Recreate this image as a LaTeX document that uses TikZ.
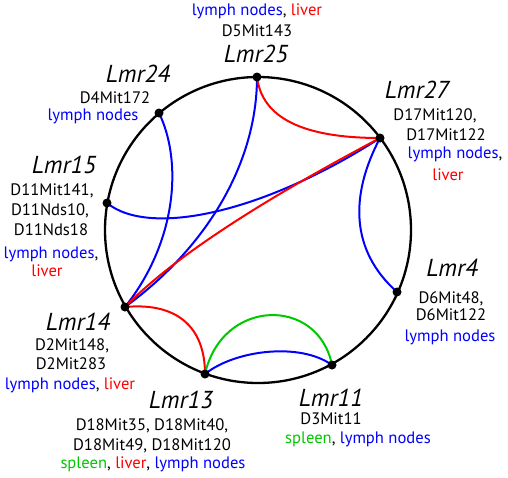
\documentclass[tikz,border=0pt]{standalone}
\usepackage{fontspec}
\setmainfont{PT Sans}
\definecolor{cblue}{RGB}{0,0,255}
\definecolor{cred}{RGB}{255,0,0}
\definecolor{cgreen}{RGB}{0,200,0}
\begin{document}
\begin{tikzpicture}[x=1pt,y=-1pt,
  ring/.style={line width=2.3pt,black},
  link/.style={line width=2pt},
  dot/.style={circle,fill=black,inner sep=0pt,minimum size=9pt},
  qtl/.style={anchor=base,inner sep=0pt,font=\fontsize{24.5}{24}\selectfont\itshape},
  lbl/.style={anchor=base,inner sep=0pt,font=\fontsize{16.6}{18}\selectfont}]
\useasboundingbox (0,0) rectangle (508,477);
\coordinate (c) at (258,230);
\coordinate (p25) at (257,77);
\coordinate (p24) at (159,113);
\coordinate (p27) at (380,138);
\coordinate (p15) at (107,203);
\coordinate (p4) at (397,292);
\coordinate (p11) at (332,365);
\coordinate (p13) at (205,374);
\coordinate (p14) at (125,307);
\draw[ring] (c) circle (153pt);
% connectors
\draw[link,cblue] (p24) .. controls (182,160) and (178,240) .. (p14);
\draw[link,cblue] (p25) .. controls (257,160) and (210,245) .. (p14);
\draw[link,cblue] (p15) .. controls (150,238) and (265,212) .. (p27);
\draw[link,cred] (p27) .. controls (320,170) and (190,240) .. (p14);
\draw[link,cblue] (p27) .. controls (350,195) and (350,250) .. (p4);
\draw[link,cred] (p25) .. controls (262,118) and (303,138) .. (p27);
\draw[link,cred] (p14) .. controls (178,302) and (205,328) .. (p13);
\draw[link,cgreen] (p13) .. controls (222,298) and (318,296) .. (p11);
\draw[link,cblue] (p13) .. controls (235,350) and (300,342) .. (p11);
% dots
\foreach \n in {25,24,27,15,4,11,13,14} \node[dot] (d\n) at (p\n) {};
% labels Lmr25
\node[lbl] (t25a) at (257,15) {\textcolor{cblue}{lymph nodes}, \textcolor{cred}{liver}};
\node[lbl] (t25b) at (257,36) {D5Mit143};
\node[qtl] (n25) at (256,62.5) {Lmr25};
% Lmr24
\node[qtl] (n24) at (138,82.5) {Lmr24};
\node[lbl] (t24b) at (115,103) {D4Mit172};
\node[lbl,cblue] (t24c) at (93,120) {lymph nodes};
% Lmr27
\node[qtl] (n27) at (417,98) {Lmr27};
\node[lbl] (t27a) at (435,120) {D17Mit120,};
\node[lbl] (t27b) at (446,140) {D17Mit122};
\node[lbl] (t27c) at (455,158) {\textcolor{cblue}{lymph nodes},};
\node[lbl,cred] (t27d) at (448,180) {liver};
% Lmr15
\node[qtl] (n15) at (64,173) {Lmr15};
\node[lbl] (t15a) at (52,195) {D11Mit141,};
\node[lbl] (t15b) at (50,215) {D11Nds10,};
\node[lbl] (t15c) at (51,235) {D11Nds18};
\node[lbl] (t15d) at (51,258) {\textcolor{cblue}{lymph nodes},};
\node[lbl,cred] (t15e) at (47,276) {liver};
% Lmr4
\node[qtl] (n4) at (452,276) {Lmr4};
\node[lbl] (t4a) at (451,303) {D6Mit48,};
\node[lbl] (t4b) at (451,320) {D6Mit122};
\node[lbl,cblue] (t4c) at (450,341.5) {lymph nodes};
% Lmr14
\node[qtl] (n14) at (78,330) {Lmr14};
\node[lbl] (t14a) at (72,350) {D2Mit148,};
\node[lbl] (t14b) at (71,369) {D2Mit283};
\node[lbl] (t14c) at (70,389) {\textcolor{cblue}{lymph nodes}, \textcolor{cred}{liver}};
% Lmr13
\node[qtl] (n13) at (181,408) {Lmr13};
\node[lbl] (t13a) at (152,430) {D18Mit35, D18Mit40,};
\node[lbl] (t13b) at (152,450) {D18Mit49, D18Mit120};
\node[lbl] (t13c) at (153,468) {\textcolor{cgreen}{spleen}, \textcolor{cred}{liver}, \textcolor{cblue}{lymph nodes}};
% Lmr11
\node[qtl] (n11) at (331,406) {Lmr11};
\node[lbl] (t11a) at (331,424) {D3Mit11};
\node[lbl] (t11b) at (358,443) {\textcolor{cgreen}{spleen}, \textcolor{cblue}{lymph nodes}};
\end{tikzpicture}
\end{document}
